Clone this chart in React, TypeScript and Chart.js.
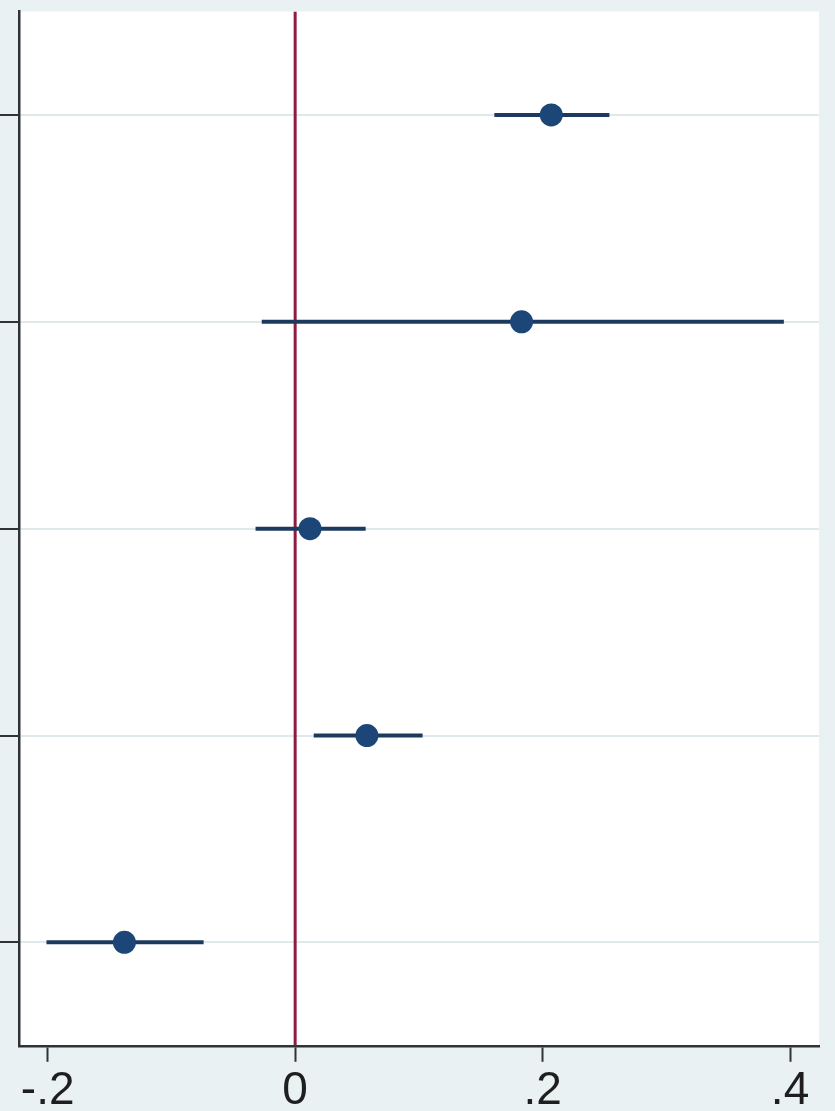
import React, { useEffect, useRef } from "react";
import { Chart, registerables } from "chart.js";

Chart.register(...registerables);

const rows = [1, 2, 3, 4, 5];
const estimates = [0.207, 0.183, 0.012, 0.058, -0.138];
const lower = [0.161, -0.027, -0.032, 0.015, -0.201];
const upper = [0.254, 0.395, 0.057, 0.103, -0.074];
const xTickValues = [-0.2, 0, 0.2, 0.4];
const xTickLabels = ["-.2", "0", ".2", ".4"];
const xMin = -0.2232;
const xMax = 0.4234;
const yMin = 0.5;
const yMax = 5.5;
const refX = 0;

const BG = "#EAF1F3";
const NAVY = "#1C3A5E";
const MARKER = "#1B4677";
const REF = "#8E1B40";

const bgPlugin = {
  id: "bgPlugin",
  beforeDraw(chart: any) {
    const { ctx, chartArea, width, height } = chart;
    ctx.save();
    ctx.fillStyle = BG;
    ctx.fillRect(0, 0, width, height);
    ctx.fillStyle = "#FFFFFF";
    ctx.fillRect(chartArea.left, chartArea.top, chartArea.right - chartArea.left, chartArea.bottom - chartArea.top);
    ctx.restore();
  },
};

export default function App() {
  const ref = useRef<HTMLCanvasElement | null>(null);
  useEffect(() => {
    document.body.style.margin = "0";
    const canvas = ref.current!;
    const ciSets = rows.map((r, i) => ({
      type: "line" as const,
      data: [
        { x: lower[i], y: r },
        { x: upper[i], y: r },
      ],
      borderColor: NAVY,
      borderWidth: 4,
      pointRadius: 0,
      order: 2,
    }));
    const chart = new Chart(canvas, {
      type: "scatter",
      data: {
        datasets: [
          {
            type: "scatter",
            data: rows.map((r, i) => ({ x: estimates[i], y: r })),
            backgroundColor: MARKER,
            borderColor: MARKER,
            pointRadius: 11.5,
            borderWidth: 0,
            order: 1,
          } as any,
          ...ciSets,
          {
            type: "line",
            data: [
              { x: refX, y: yMin },
              { x: refX, y: yMax },
            ],
            borderColor: REF,
            borderWidth: 3,
            pointRadius: 0,
            order: 3,
          },
        ],
      },
      options: {
        responsive: false,
        animation: false,
        layout: { padding: { left: 0, right: 16, top: 5, bottom: 0 } },
        plugins: { legend: { display: false }, tooltip: { enabled: false } },
        scales: {
          x: {
            type: "linear",
            min: xMin,
            max: xMax,
            afterBuildTicks: (s: any) => {
              s.ticks = xTickValues.map((v) => ({ value: v }));
            },
            grid: {
              drawOnChartArea: false,
              drawTicks: true,
              tickLength: 16,
              tickColor: "#2F3336",
              tickWidth: 2,
            },
            border: { color: "#2F3336", width: 2.5 },
            ticks: {
              autoSkip: false,
              maxRotation: 0,
              padding: 2,
              color: "#1E1E1E",
              font: { family: "Liberation Sans", size: 46, lineHeight: 1.2 },
              callback: (v: any) => {
                const idx = xTickValues.findIndex((t) => Math.abs(t - Number(v)) < 1e-9);
                return idx >= 0 ? xTickLabels[idx] : "";
              },
            },
          },
          y: {
            type: "linear",
            reverse: true,
            min: yMin,
            max: yMax,
            afterBuildTicks: (s: any) => {
              s.ticks = rows.map((v) => ({ value: v }));
            },
            grid: {
              color: "#DFE9EC",
              lineWidth: 2,
              drawTicks: true,
              tickLength: 19,
              tickColor: "#2F3336",
              tickWidth: 2,
            },
            border: { color: "#2F3336", width: 2.5 },
            ticks: { display: false },
          },
        },
      },
      plugins: [bgPlugin],
    });
    return () => chart.destroy();
  }, []);
  return (
    <div style={{ width: 835, height: 1111, overflow: "hidden", background: BG }}>
      <canvas ref={ref} width={835} height={1121} style={{ display: "block" }} />
    </div>
  );
}
